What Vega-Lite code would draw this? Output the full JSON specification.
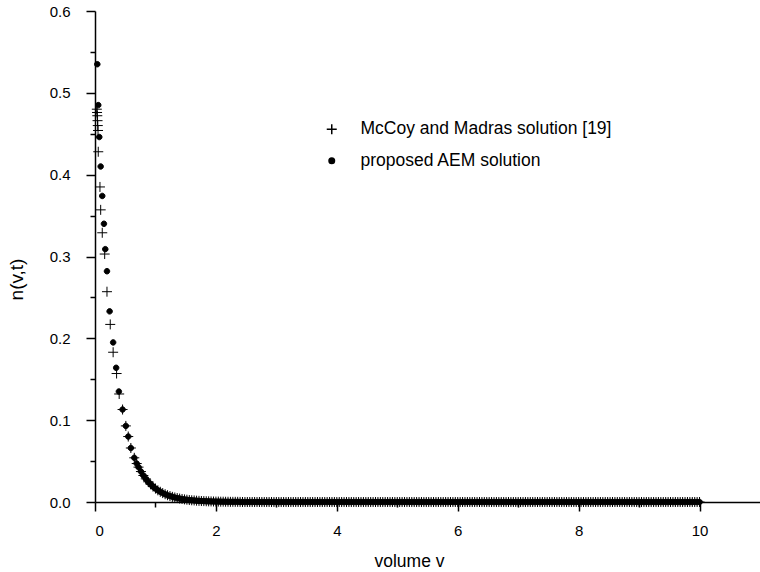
{
  "$schema": "https://vega.github.io/schema/vega-lite/v6.json",
  "width": 665,
  "height": 491,
  "autosize": "none",
  "padding": {"left": 95, "top": 11, "right": 0, "bottom": 70},
  "background": "white",
  "config": {
    "view": {"stroke": null},
    "font": "Liberation Sans",
    "axis": {
      "domainColor": "black", "domainWidth": 1.5, "tickColor": "black", "tickWidth": 1.5,
      "labelColor": "black", "titleColor": "black", "labelFontSize": 15, "titleFontSize": 17.5,
      "titleFontWeight": "normal", "grid": false, "labelFont": "Liberation Sans", "titleFont": "Liberation Sans"
    }
  },
  "data": {
    "values": [
      {"v": 0.038, "a": 0.535}, {"v": 0.054, "a": 0.485}, {"v": 0.071, "a": 0.446}, {"v": 0.094, "a": 0.41},
      {"v": 0.12, "a": 0.374}, {"v": 0.148, "a": 0.34}, {"v": 0.17, "a": 0.309}, {"v": 0.198, "a": 0.282},
      {"v": 0.242, "a": 0.233}, {"v": 0.30, "a": 0.195}, {"v": 0.35, "a": 0.164}, {"v": 0.395, "a": 0.135},
      {"v": 0.03, "m": 0.48}, {"v": 0.034, "m": 0.476}, {"v": 0.038, "m": 0.472}, {"v": 0.042, "m": 0.466},
      {"v": 0.046, "m": 0.46}, {"v": 0.05, "m": 0.454}, {"v": 0.054, "m": 0.428}, {"v": 0.082, "m": 0.385},
      {"v": 0.094, "m": 0.357}, {"v": 0.12, "m": 0.329}, {"v": 0.16, "m": 0.303}, {"v": 0.198, "m": 0.257},
      {"v": 0.252, "m": 0.217}, {"v": 0.30, "m": 0.183}, {"v": 0.357, "m": 0.157}, {"v": 0.40, "m": 0.132},
      {"v": 0.456, "m": 0.113, "a": 0.113}, {"v": 0.51, "m": 0.093, "a": 0.093}, {"v": 0.55, "m": 0.08, "a": 0.08},
      {"v": 0.593, "m": 0.066, "a": 0.066}, {"v": 0.65, "m": 0.054, "a": 0.054}, {"v": 0.69, "m": 0.047, "a": 0.047},
      {"v": 0.72, "m": 0.0426, "a": 0.0426}, {"v": 0.76, "m": 0.0372, "a": 0.0372}, {"v": 0.80, "m": 0.0324, "a": 0.0324},
      {"v": 0.84, "m": 0.0283, "a": 0.0283}, {"v": 0.88, "m": 0.0247, "a": 0.0247}, {"v": 0.92, "m": 0.0216, "a": 0.0216},
      {"v": 0.96, "m": 0.0188, "a": 0.0188}, {"v": 1.00, "m": 0.0164, "a": 0.0164}, {"v": 1.04, "m": 0.0143, "a": 0.0143},
      {"v": 1.08, "m": 0.0125, "a": 0.0125}, {"v": 1.12, "m": 0.0109, "a": 0.0109}, {"v": 1.16, "m": 0.0095, "a": 0.0095},
      {"v": 1.20, "m": 0.0083, "a": 0.0083}, {"v": 1.24, "m": 0.0073, "a": 0.0073}, {"v": 1.28, "m": 0.0063, "a": 0.0063},
      {"v": 1.32, "m": 0.0055, "a": 0.0055}, {"v": 1.36, "m": 0.0048, "a": 0.0048}, {"v": 1.40, "m": 0.0042, "a": 0.0042},
      {"v": 1.44, "m": 0.0037, "a": 0.0037}, {"v": 1.48, "m": 0.0032, "a": 0.0032}, {"v": 1.52, "m": 0.0028, "a": 0.0028},
      {"v": 1.56, "m": 0.0024, "a": 0.0024}, {"v": 1.60, "m": 0.0021, "a": 0.0021}, {"v": 1.64, "m": 0.0019, "a": 0.0019},
      {"v": 1.68, "m": 0.0016, "a": 0.0016}, {"v": 1.72, "m": 0.0014, "a": 0.0014}, {"v": 1.76, "m": 0.0012, "a": 0.0012},
      {"v": 1.80, "m": 0.0011, "a": 0.0011}, {"v": 1.84, "m": 0.0009, "a": 0.0009}, {"v": 1.88, "m": 0.0008, "a": 0.0008},
      {"v": 1.92, "m": 0.0007, "a": 0.0007}, {"v": 1.96, "m": 0.0006, "a": 0.0006}, {"v": 2.00, "m": 0.0005, "a": 0.0005},
      {"v": 2.04, "m": 0.0005, "a": 0.0005}, {"v": 2.08, "m": 0.0004, "a": 0.0004}, {"v": 2.12, "m": 0.0004, "a": 0.0004},
      {"v": 2.16, "m": 0.0003, "a": 0.0003}, {"v": 2.20, "m": 0.0003, "a": 0.0003}, {"v": 2.24, "m": 0.0002, "a": 0.0002},
      {"v": 2.28, "m": 0.0002, "a": 0.0002}, {"v": 2.32, "m": 0.0002, "a": 0.0002}, {"v": 2.36, "m": 0.0002, "a": 0.0002},
      {"v": 2.40, "m": 0.0001, "a": 0.0001},
      {"v": 2.44, "m": 0, "a": 0}, {"v": 2.48, "m": 0, "a": 0}, {"v": 2.52, "m": 0, "a": 0}, {"v": 2.56, "m": 0, "a": 0},
      {"v": 2.60, "m": 0, "a": 0}, {"v": 2.64, "m": 0, "a": 0}, {"v": 2.68, "m": 0, "a": 0}, {"v": 2.72, "m": 0, "a": 0},
      {"v": 2.76, "m": 0, "a": 0}, {"v": 2.80, "m": 0, "a": 0}, {"v": 2.84, "m": 0, "a": 0}, {"v": 2.88, "m": 0, "a": 0},
      {"v": 2.92, "m": 0, "a": 0}, {"v": 2.96, "m": 0, "a": 0},
      {"v": 3.00, "m": 0, "a": 0}, {"v": 3.04, "m": 0, "a": 0}, {"v": 3.08, "m": 0, "a": 0}, {"v": 3.12, "m": 0, "a": 0},
      {"v": 3.16, "m": 0, "a": 0}, {"v": 3.20, "m": 0, "a": 0}, {"v": 3.24, "m": 0, "a": 0}, {"v": 3.28, "m": 0, "a": 0},
      {"v": 3.32, "m": 0, "a": 0}, {"v": 3.36, "m": 0, "a": 0}, {"v": 3.40, "m": 0, "a": 0}, {"v": 3.44, "m": 0, "a": 0},
      {"v": 3.48, "m": 0, "a": 0}, {"v": 3.52, "m": 0, "a": 0}, {"v": 3.56, "m": 0, "a": 0}, {"v": 3.60, "m": 0, "a": 0},
      {"v": 3.64, "m": 0, "a": 0}, {"v": 3.68, "m": 0, "a": 0}, {"v": 3.72, "m": 0, "a": 0}, {"v": 3.76, "m": 0, "a": 0},
      {"v": 3.80, "m": 0, "a": 0}, {"v": 3.84, "m": 0, "a": 0}, {"v": 3.88, "m": 0, "a": 0}, {"v": 3.92, "m": 0, "a": 0},
      {"v": 3.96, "m": 0, "a": 0},
      {"v": 4.00, "m": 0, "a": 0}, {"v": 4.04, "m": 0, "a": 0}, {"v": 4.08, "m": 0, "a": 0}, {"v": 4.12, "m": 0, "a": 0},
      {"v": 4.16, "m": 0, "a": 0}, {"v": 4.20, "m": 0, "a": 0}, {"v": 4.24, "m": 0, "a": 0}, {"v": 4.28, "m": 0, "a": 0},
      {"v": 4.32, "m": 0, "a": 0}, {"v": 4.36, "m": 0, "a": 0}, {"v": 4.40, "m": 0, "a": 0}, {"v": 4.44, "m": 0, "a": 0},
      {"v": 4.48, "m": 0, "a": 0}, {"v": 4.52, "m": 0, "a": 0}, {"v": 4.56, "m": 0, "a": 0}, {"v": 4.60, "m": 0, "a": 0},
      {"v": 4.64, "m": 0, "a": 0}, {"v": 4.68, "m": 0, "a": 0}, {"v": 4.72, "m": 0, "a": 0}, {"v": 4.76, "m": 0, "a": 0},
      {"v": 4.80, "m": 0, "a": 0}, {"v": 4.84, "m": 0, "a": 0}, {"v": 4.88, "m": 0, "a": 0}, {"v": 4.92, "m": 0, "a": 0},
      {"v": 4.96, "m": 0, "a": 0},
      {"v": 5.00, "m": 0, "a": 0}, {"v": 5.04, "m": 0, "a": 0}, {"v": 5.08, "m": 0, "a": 0}, {"v": 5.12, "m": 0, "a": 0},
      {"v": 5.16, "m": 0, "a": 0}, {"v": 5.20, "m": 0, "a": 0}, {"v": 5.24, "m": 0, "a": 0}, {"v": 5.28, "m": 0, "a": 0},
      {"v": 5.32, "m": 0, "a": 0}, {"v": 5.36, "m": 0, "a": 0}, {"v": 5.40, "m": 0, "a": 0}, {"v": 5.44, "m": 0, "a": 0},
      {"v": 5.48, "m": 0, "a": 0}, {"v": 5.52, "m": 0, "a": 0}, {"v": 5.56, "m": 0, "a": 0}, {"v": 5.60, "m": 0, "a": 0},
      {"v": 5.64, "m": 0, "a": 0}, {"v": 5.68, "m": 0, "a": 0}, {"v": 5.72, "m": 0, "a": 0}, {"v": 5.76, "m": 0, "a": 0},
      {"v": 5.80, "m": 0, "a": 0}, {"v": 5.84, "m": 0, "a": 0}, {"v": 5.88, "m": 0, "a": 0}, {"v": 5.92, "m": 0, "a": 0},
      {"v": 5.96, "m": 0, "a": 0},
      {"v": 6.00, "m": 0, "a": 0}, {"v": 6.04, "m": 0, "a": 0}, {"v": 6.08, "m": 0, "a": 0}, {"v": 6.12, "m": 0, "a": 0},
      {"v": 6.16, "m": 0, "a": 0}, {"v": 6.20, "m": 0, "a": 0}, {"v": 6.24, "m": 0, "a": 0}, {"v": 6.28, "m": 0, "a": 0},
      {"v": 6.32, "m": 0, "a": 0}, {"v": 6.36, "m": 0, "a": 0}, {"v": 6.40, "m": 0, "a": 0}, {"v": 6.44, "m": 0, "a": 0},
      {"v": 6.48, "m": 0, "a": 0}, {"v": 6.52, "m": 0, "a": 0}, {"v": 6.56, "m": 0, "a": 0}, {"v": 6.60, "m": 0, "a": 0},
      {"v": 6.64, "m": 0, "a": 0}, {"v": 6.68, "m": 0, "a": 0}, {"v": 6.72, "m": 0, "a": 0}, {"v": 6.76, "m": 0, "a": 0},
      {"v": 6.80, "m": 0, "a": 0}, {"v": 6.84, "m": 0, "a": 0}, {"v": 6.88, "m": 0, "a": 0}, {"v": 6.92, "m": 0, "a": 0},
      {"v": 6.96, "m": 0, "a": 0},
      {"v": 7.00, "m": 0, "a": 0}, {"v": 7.04, "m": 0, "a": 0}, {"v": 7.08, "m": 0, "a": 0}, {"v": 7.12, "m": 0, "a": 0},
      {"v": 7.16, "m": 0, "a": 0}, {"v": 7.20, "m": 0, "a": 0}, {"v": 7.24, "m": 0, "a": 0}, {"v": 7.28, "m": 0, "a": 0},
      {"v": 7.32, "m": 0, "a": 0}, {"v": 7.36, "m": 0, "a": 0}, {"v": 7.40, "m": 0, "a": 0}, {"v": 7.44, "m": 0, "a": 0},
      {"v": 7.48, "m": 0, "a": 0}, {"v": 7.52, "m": 0, "a": 0}, {"v": 7.56, "m": 0, "a": 0}, {"v": 7.60, "m": 0, "a": 0},
      {"v": 7.64, "m": 0, "a": 0}, {"v": 7.68, "m": 0, "a": 0}, {"v": 7.72, "m": 0, "a": 0}, {"v": 7.76, "m": 0, "a": 0},
      {"v": 7.80, "m": 0, "a": 0}, {"v": 7.84, "m": 0, "a": 0}, {"v": 7.88, "m": 0, "a": 0}, {"v": 7.92, "m": 0, "a": 0},
      {"v": 7.96, "m": 0, "a": 0},
      {"v": 8.00, "m": 0, "a": 0}, {"v": 8.04, "m": 0, "a": 0}, {"v": 8.08, "m": 0, "a": 0}, {"v": 8.12, "m": 0, "a": 0},
      {"v": 8.16, "m": 0, "a": 0}, {"v": 8.20, "m": 0, "a": 0}, {"v": 8.24, "m": 0, "a": 0}, {"v": 8.28, "m": 0, "a": 0},
      {"v": 8.32, "m": 0, "a": 0}, {"v": 8.36, "m": 0, "a": 0}, {"v": 8.40, "m": 0, "a": 0}, {"v": 8.44, "m": 0, "a": 0},
      {"v": 8.48, "m": 0, "a": 0}, {"v": 8.52, "m": 0, "a": 0}, {"v": 8.56, "m": 0, "a": 0}, {"v": 8.60, "m": 0, "a": 0},
      {"v": 8.64, "m": 0, "a": 0}, {"v": 8.68, "m": 0, "a": 0}, {"v": 8.72, "m": 0, "a": 0}, {"v": 8.76, "m": 0, "a": 0},
      {"v": 8.80, "m": 0, "a": 0}, {"v": 8.84, "m": 0, "a": 0}, {"v": 8.88, "m": 0, "a": 0}, {"v": 8.92, "m": 0, "a": 0},
      {"v": 8.96, "m": 0, "a": 0},
      {"v": 9.00, "m": 0, "a": 0}, {"v": 9.04, "m": 0, "a": 0}, {"v": 9.08, "m": 0, "a": 0}, {"v": 9.12, "m": 0, "a": 0},
      {"v": 9.16, "m": 0, "a": 0}, {"v": 9.20, "m": 0, "a": 0}, {"v": 9.24, "m": 0, "a": 0}, {"v": 9.28, "m": 0, "a": 0},
      {"v": 9.32, "m": 0, "a": 0}, {"v": 9.36, "m": 0, "a": 0}, {"v": 9.40, "m": 0, "a": 0}, {"v": 9.44, "m": 0, "a": 0},
      {"v": 9.48, "m": 0, "a": 0}, {"v": 9.52, "m": 0, "a": 0}, {"v": 9.56, "m": 0, "a": 0}, {"v": 9.60, "m": 0, "a": 0},
      {"v": 9.64, "m": 0, "a": 0}, {"v": 9.68, "m": 0, "a": 0}, {"v": 9.72, "m": 0, "a": 0}, {"v": 9.76, "m": 0, "a": 0},
      {"v": 9.80, "m": 0, "a": 0}, {"v": 9.84, "m": 0, "a": 0}, {"v": 9.88, "m": 0, "a": 0}, {"v": 9.92, "m": 0, "a": 0},
      {"v": 9.96, "m": 0, "a": 0}, {"v": 10.00, "m": 0, "a": 0}
    ]
  },
  "transform": [
    {"fold": ["m", "a"], "as": ["s", "n"]},
    {"filter": "isValid(datum.n)"}
  ],
  "mark": {"type": "point", "filled": true, "fill": "black", "stroke": "black", "strokeWidth": 1, "opacity": 1, "size": 100},
  "encoding": {
    "x": {
      "field": "v", "type": "quantitative",
      "scale": {"domain": [0, 11], "nice": false, "zero": false},
      "axis": {
        "title": "volume v",
        "values": [0, 1, 2, 3, 4, 5, 6, 7, 8, 9, 10],
        "labelExpr": "datum.value % 2 == 0 ? datum.label : ''",
        "tickSize": {"condition": {"test": "datum.value % 2 == 0", "value": 9}, "value": 5},
        "labelPadding": 12,
        "titlePadding": 14,
        "titleX": 314
      }
    },
    "y": {
      "field": "n", "type": "quantitative",
      "scale": {"domain": [0, 0.6], "nice": false},
      "axis": {
        "title": "n(v,t)",
        "titleFontSize": 19,
        "values": [0, 0.05, 0.1, 0.15, 0.2, 0.25, 0.3, 0.35, 0.4, 0.45, 0.5, 0.55, 0.6],
        "labelExpr": "round(datum.value * 100) % 10 == 0 ? format(datum.value, '.1f') : ''",
        "tickSize": {"condition": {"test": "round(datum.value * 100) % 10 == 0", "value": 9}, "value": 5},
        "labelPadding": 16,
        "titlePadding": 23,
        "titleY": 268
      }
    },
    "shape": {
      "field": "s", "type": "nominal",
      "scale": {"domain": ["m", "a"], "range": ["M-1,0H1M0,-1V1", "M-0.55,0A0.55,0.55 0 1,0 0.55,0A0.55,0.55 0 1,0 -0.55,0Z"]},
      "legend": {
        "title": null, "orient": "none", "legendX": 228, "legendY": 109.5, "padding": 0,
        "symbolSize": 100, "labelFontSize": 17.5, "labelFont": "Liberation Sans", "labelColor": "black",
        "labelOffset": 20, "rowPadding": 12.5, "labelLimit": 0,
        "labelExpr": "datum.label == 'm' ? 'McCoy and Madras solution [19]' : 'proposed AEM solution'",
        "encode": {
          "symbols": {"update": {"fill": {"value": "black"}, "stroke": {"value": "black"}, "strokeWidth": {"value": 1}, "opacity": {"value": 1}}}
        }
      }
    }
  }
}
